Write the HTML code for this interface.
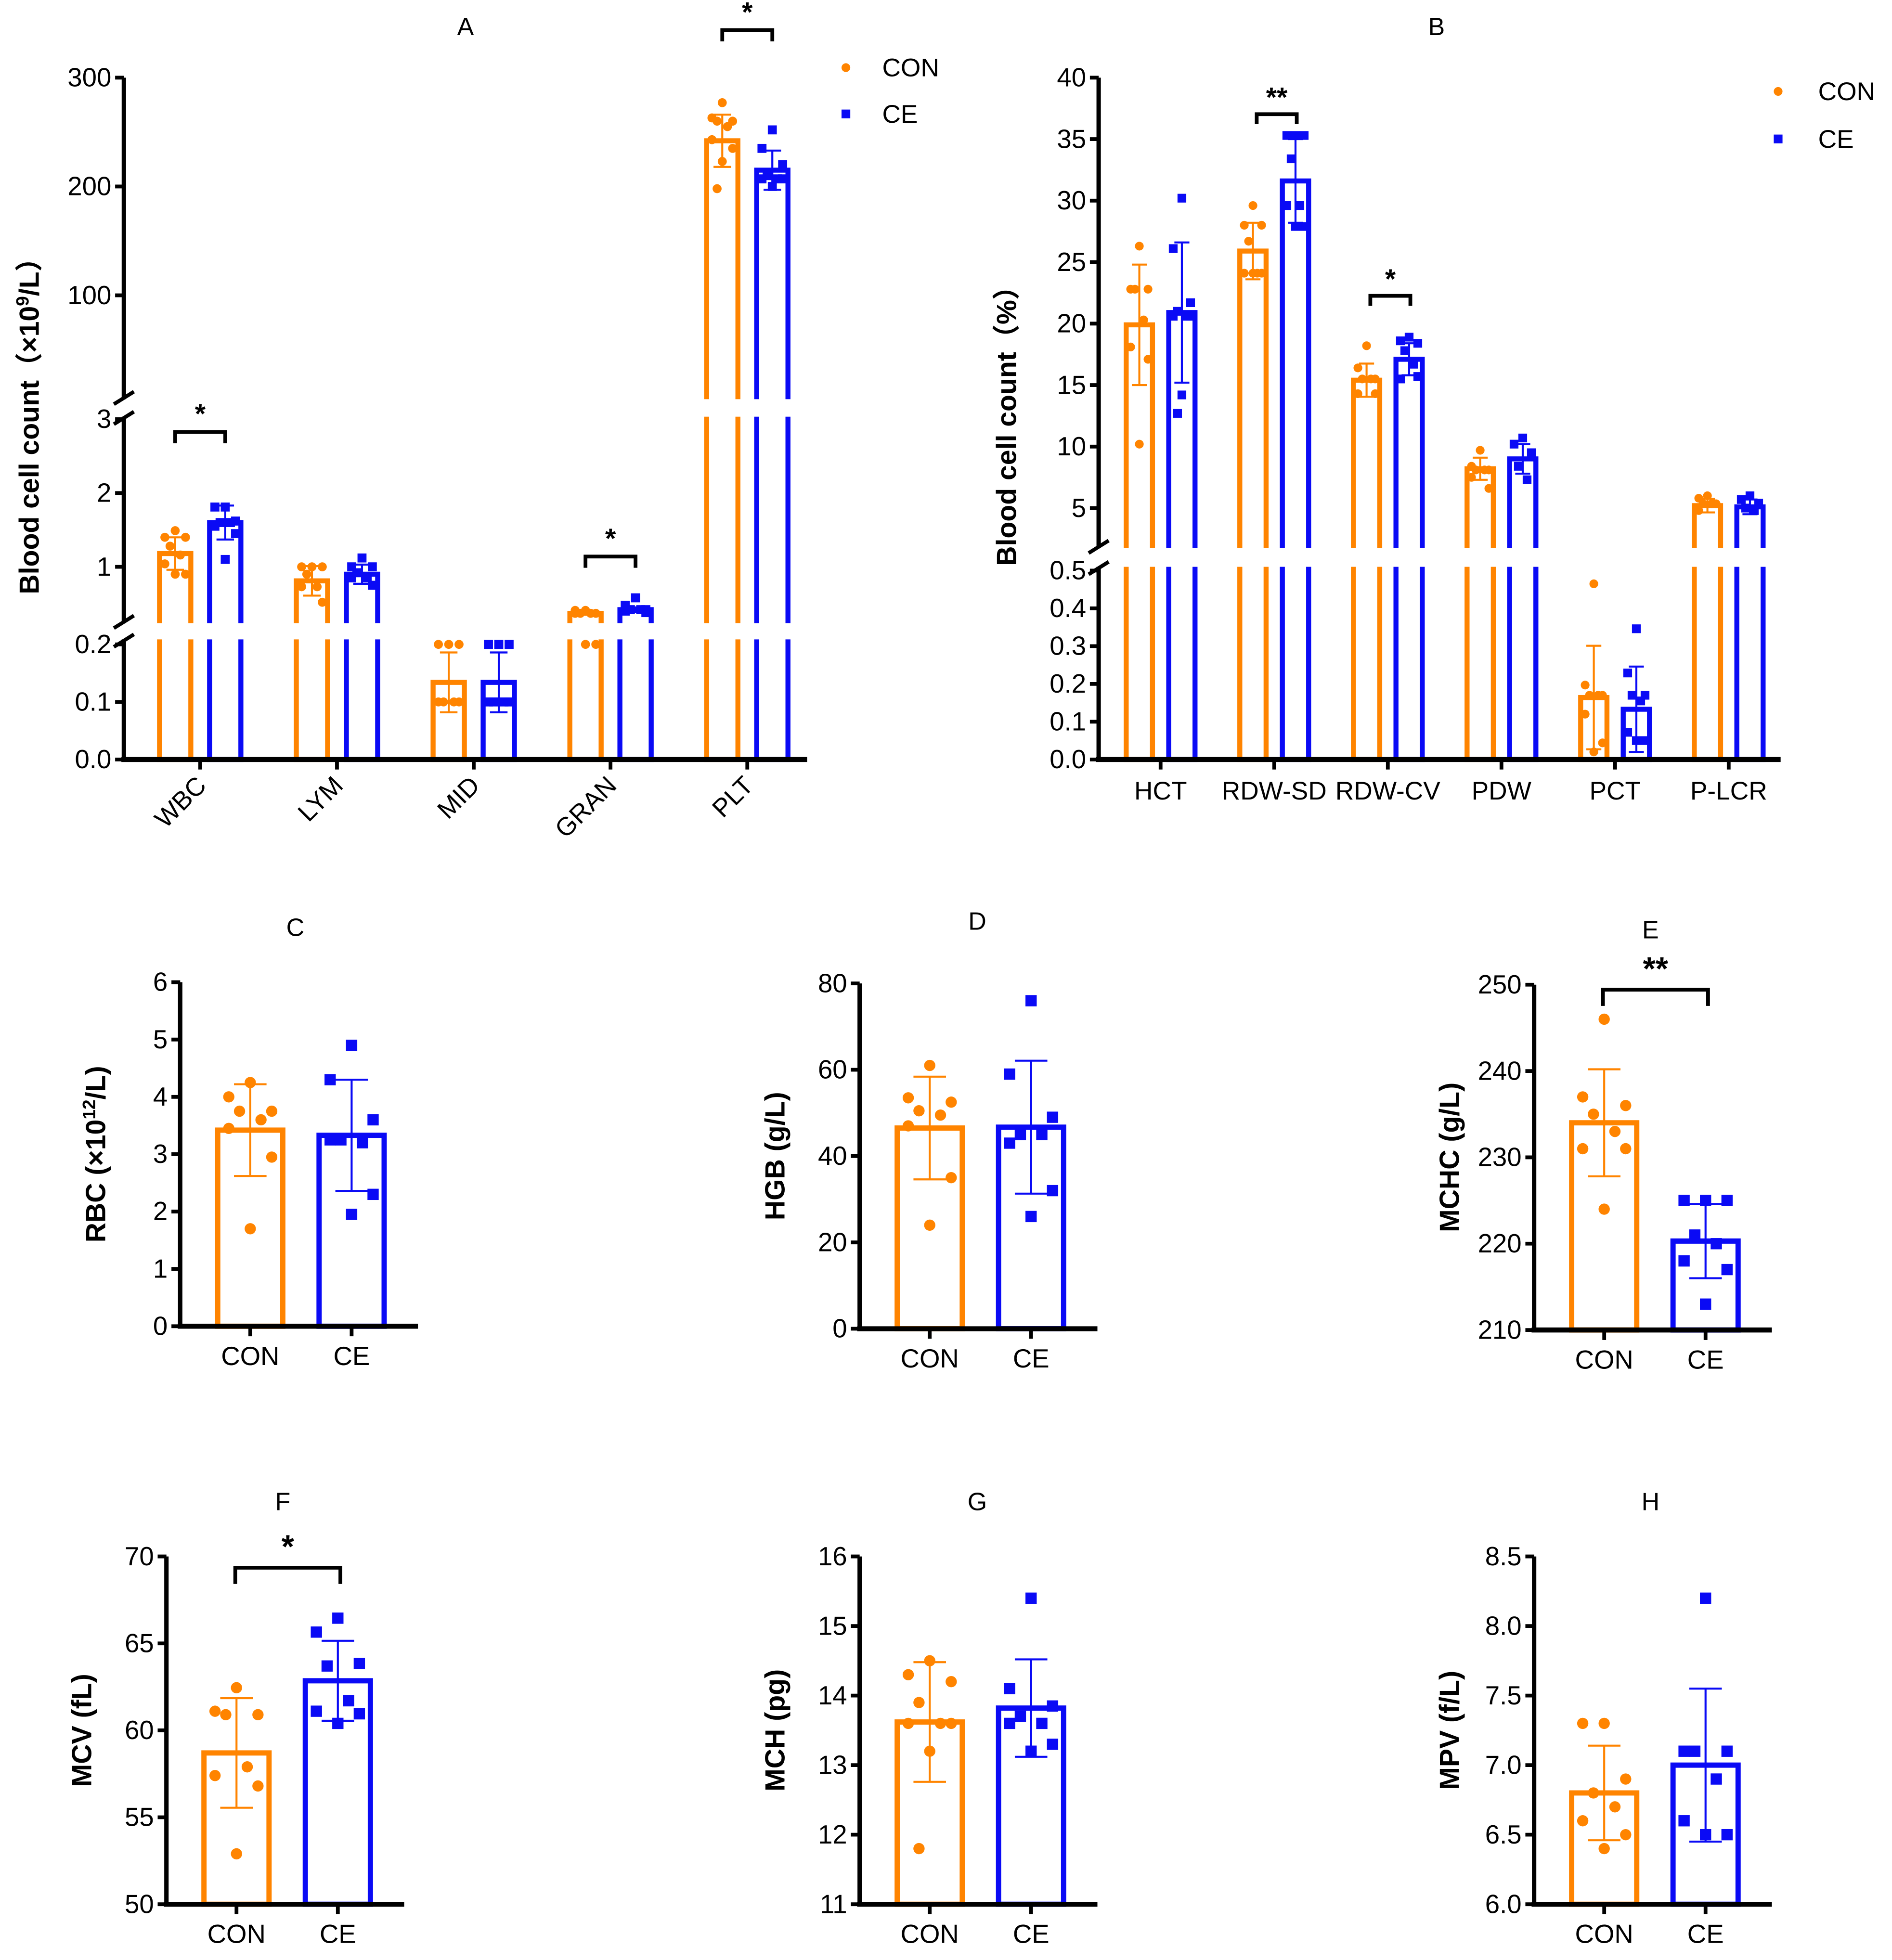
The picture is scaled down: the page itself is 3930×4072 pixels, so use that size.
<!DOCTYPE html>
<html><head><meta charset="utf-8"><title>Blood cell counts</title>
<style>
html,body{margin:0;padding:0;background:#fff;}
svg{display:block;font-family:"Liberation Sans","Noto Sans CJK SC",sans-serif;}
</style></head>
<body>
<svg id="fig" xmlns="http://www.w3.org/2000/svg" width="3930" height="4072" viewBox="0 0 1512 1566.5">
<rect x="0" y="0" width="1530" height="1586" fill="#fff"/>
</svg>
<script>
// ---------- DATA ----------
// Panel A
const catsA = ["WBC","LYM","MID","GRAN","PLT"];
const meanA_con = [1.18, 0.81, 0.134, 0.37, 242];
const sdA_con   = [0.22, 0.20, 0.052, 0.02, 24];
const meanA_ce  = [1.60, 0.90, 0.134, 0.42, 215];
const sdA_ce    = [0.23, 0.13, 0.052, 0.03, 18];
const ptsA_con = [[1.49,1.4,1.4,1.28,1.16,1.04,0.9,0.9],[1.0,1.0,1.0,0.9,0.73,0.73,0.52],[0.2,0.2,0.2,0.1,0.1,0.1,0.1],[0.41,0.41,0.37,0.37,0.37,0.37,0.2,0.2],[277,263,260,260,255,243,235,223,198]];
const ptsA_ce  = [[1.81,1.81,1.62,1.6,1.6,1.55,1.45,1.1],[1.12,1.0,1.0,0.92,0.85,0.85,0.75],[0.2,0.2,0.2,0.1,0.1,0.1,0.1],[0.58,0.48,0.42,0.42,0.42,0.4,0.38],[252,235,220,210,207,207,207,200]];
const ticksA_low = [0,0.1,0.2];
const ticksA_mid = [1,2,3];
const ticksA_top = [100,200,300];
const sigA = [["WBC","*"],["GRAN","*"],["PLT","*"]];
// Panel B
const catsB = ["HCT","RDW-SD","RDW-CV","PDW","PCT","P-LCR"];
const meanB_con = [19.9, 25.9, 15.4, 8.2, 0.164, 5.2];
const sdB_con   = [4.9, 2.3, 1.35, 0.9, 0.137, 0.55];
const meanB_ce  = [20.9, 31.6, 17.1, 9.0, 0.133, 5.1];
const sdB_ce    = [5.7, 3.4, 1.3, 1.2, 0.113, 0.6];
const ptsB_con = [[26.3,22.8,22.8,22.8,20.3,18.1,17.1,10.2],[29.6,28,28,26.7,24.1,24.1,24.1,24.1],[18.2,16.4,15.5,15.5,15.5,14.3,14.3],[9.7,8.4,8.1,8.1,8.1,7.5,6.6],[0.465,0.197,0.17,0.17,0.17,0.12,0.044,0.02],[6.0,5.8,5.35,5.35,5.35,4.8]];
const ptsB_ce  = [[30.2,26.1,21.7,21,20.6,20.6,20.6,14.2,12.7],[35.3,35.3,35.3,33.4,29.6,29.6,27.9,27.9],[18.9,18.6,18.4,17.8,16.7,15.5,15.7],[10.7,10.2,9.5,8.4,7.3],[0.346,0.229,0.17,0.17,0.155,0.072,0.05,0.05],[6.0,5.7,5.4,5.0,4.8]];
const ticksB_up = [5,10,15,20,25,30,35,40];
const ticksB_low = [0,0.1,0.2,0.3,0.4,0.5];
const sigB = [["RDW-SD","**"],["RDW-CV","*"]];
// Small panels C-H
const groups = ["CON","CE"];
const meanC = [3.42, 3.33]; const sdC = [0.80, 0.97];
const ptsC_con = [4.25,4.0,3.75,3.75,3.6,3.45,2.95,1.7];
const ptsC_ce  = [4.9,4.3,3.6,3.25,3.2,3.25,2.3,1.95];
const ticksC = [0,1,2,3,4,5,6];
const meanD = [46.5, 46.7]; const sdD = [11.9, 15.4];
const ptsD_con = [61,53.5,52.5,50.5,49.5,47,35,24];
const ptsD_ce  = [76,59,49,45,45,43,32,26];
const ticksD = [0,20,40,60,80];
const meanE = [234, 220.3]; const sdE = [6.2, 4.3];
const ptsE_con = [246,237,236,235,233,231,231,224];
const ptsE_ce  = [225,225,225,221,220,218,217,213];
const ticksE = [210,220,230,240,250];
const meanF = [58.7, 62.85]; const sdF = [3.15, 2.3];
const ptsF_con = [62.45,61.1,60.9,60.9,57.9,57.4,56.8,52.9];
const ptsF_ce  = [66.45,65.65,63.85,63.7,61.7,61.1,60.95,60.4];
const ticksF = [50,55,60,65,70];
const meanG = [13.62, 13.82]; const sdG = [0.86, 0.7];
const ptsG_con = [14.5,14.3,14.2,13.9,13.6,13.6,13.6,13.2,11.8];
const ptsG_ce  = [15.4,14.1,13.85,13.7,13.6,13.6,13.3,13.2];
const ticksG = [11,12,13,14,15,16];
const meanH = [6.8, 7.0]; const sdH = [0.34, 0.55];
const ptsH_con = [7.3,7.3,6.9,6.8,6.7,6.6,6.5,6.4];
const ptsH_ce  = [8.2,7.1,7.1,7.1,6.9,6.6,6.5,6.5];
const ticksH = [6.0,6.5,7.0,7.5,8.0,8.5];

// ---------- DRAWING ----------
const NS = "http://www.w3.org/2000/svg";
const svg = document.getElementById('fig');
const ORANGE = "#FF8400", BLUE = "#0A0AF5";
const TICKFS = 21;
const YTFS = 22;
const jit = [0,-1,1,-0.5,0.5,-1,1,0,-0.5];
function mk(tag, parent){ const e = document.createElementNS(NS, tag); parent.appendChild(e); return e; }
function at(e, o){ for (const k in o) e.setAttribute(k, o[k]); return e; }
function line(p, x1,y1,x2,y2, stroke, w){ return at(mk('line',p),{x1:x1,y1:y1,x2:x2,y2:y2,stroke:stroke,'stroke-width':w}); }
function txt(p, x,y,s,size,anchor,weight){ const t = at(mk('text',p),{x:x,y:y,'font-size':size,'text-anchor':anchor||'middle','font-weight':weight||'normal',fill:'#000'}); t.textContent = s; return t; }

function drawGroup(p, cx, w, mean, sd, pts, color, square, yf, baseY, capW, r, sw, gaps, label){
  const g = mk('g', p);
  
  
  const top = yf(mean);
  const bar = at(mk('rect', g), {x:cx-w/2, y:top, width:w, height:baseY-top, fill:'#fff', stroke:color, 'stroke-width':sw});
  
  
  (gaps||[]).forEach(gp => { if (gp[1] > top) at(mk('rect', g), {x:cx-w/2-sw, y:Math.max(gp[0],top-sw), width:w+2*sw, height:gp[1]-Math.max(gp[0],top-sw), fill:'#fff'}); });
  const eb = mk('g', g);
  
  
  const yu = yf(mean+sd), yl = yf(Math.max(mean-sd, 0));
  line(eb, cx, yu, cx, yl, color, 1.6);
  line(eb, cx-capW/2, yu, cx+capW/2, yu, color, 1.6);
  line(eb, cx-capW/2, yl, cx+capW/2, yl, color, 1.6);
  pts.forEach((v,i) => {
    const x = cx + jit[i % jit.length] * w * 0.33, y = yf(v);
    let d;
    if (square) d = at(mk('rect', g), {x:x-r, y:y-r, width:2*r, height:2*r, fill:color});
    else d = at(mk('circle', g), {cx:x, cy:y, r:r, fill:color});
    
    
  });
}
function bracket(p, x1, x2, y, leg, stars, sy, size){
  const g = mk('g', p);
  
  
  at(mk('polyline', g), {points:`${x1},${y+leg} ${x1},${y} ${x2},${y} ${x2},${y+leg}`, fill:'none', stroke:'#000', 'stroke-width':3});
  txt(g, (x1+x2)/2, sy, stars, size, 'middle', 'bold');
}
function yTitle(p, x, y, parts, size){
  const t = at(mk('text', p), {x:0, y:0, 'font-size':size, 'font-weight':'bold', 'text-anchor':'middle', transform:`translate(${x},${y}) rotate(-90)`});
  
  
  parts.forEach(pt => { const s = mk('tspan', t); s.textContent = pt[0]; if (pt[1]) { s.setAttribute('baseline-shift','super'); s.setAttribute('font-size', size*0.65); } });
}

// ----- Panel A -----
(function(){
  const p = mk('g', svg);
  
  
  const AX = 99, BASE = 607;
  const yA = v => v >= 9 ? 62 + (300 - v) * 0.87 : (v >= 0.25 ? 453 - (v - 1) * 59 : 607 - v * 460);
  const gaps = [[319,333],[498,511]];
  const cxA = i => 160 + i * 109.3;
  catsA.forEach((c,i) => {
    drawGroup(p, cxA(i)-20, 25, meanA_con[i], sdA_con[i], ptsA_con[i], ORANGE, false, yA, BASE, 14, 3.6, 4, gaps, c.toLowerCase()+'-con');
    drawGroup(p, cxA(i)+20, 25, meanA_ce[i], sdA_ce[i], ptsA_ce[i], BLUE, true, yA, BASE, 14, 3.6, 4, gaps, c.toLowerCase()+'-ce');
  });
  const ax = mk('g', p);
  
  
  [[62,319],[333,498],[511,607]].forEach(s => line(ax, AX, s[0], AX, s[1], '#000', 3.5));
  [[319,333],[498,511]].forEach(s => { line(ax, AX-8, s[0]+4, AX+8, s[0]-6, '#000', 3); line(ax, AX-8, s[1]+6, AX+8, s[1]-4, '#000', 3); });
  ticksA_low.forEach(t => { line(ax, AX-7, yA(t), AX, yA(t), '#000', 3); txt(ax, AX-10, yA(t)+7, t.toFixed(1), TICKFS, 'end'); });
  ticksA_mid.forEach(t => { line(ax, AX-7, yA(t), AX, yA(t), '#000', 3); txt(ax, AX-10, yA(t)+7, String(t), TICKFS, 'end'); });
  ticksA_top.forEach(t => { line(ax, AX-7, yA(t), AX, yA(t), '#000', 3); txt(ax, AX-10, yA(t)+7, String(t), TICKFS, 'end'); });
  const xa = mk('g', p);
  
  
  line(xa, AX-2, BASE, 645, BASE, '#000', 4);
  catsA.forEach((c,i) => {
    line(xa, cxA(i), BASE, cxA(i), BASE+8, '#000', 3);
    const t = txt(xa, 0, 0, c, 20.5, 'end');
    t.setAttribute('transform', `translate(${cxA(i)+6},${BASE+22}) rotate(-45)`);
    
    
  });
  sigA.forEach(s => {
    const i = catsA.indexOf(s[0]);
    const hi = Math.max(...ptsA_ce[i], ...ptsA_con[i], meanA_con[i]+sdA_con[i]);
    const y = yA(hi) - (i===4 ? 58 : (i===0 ? 60 : 33));
    bracket(p, cxA(i)-20, cxA(i)+20, y, 9, s[1], y-7, 22);
  });
  const tA = txt(p, 372, 28, 'A', 20);  
  yTitle(p, 31, 335, [['Blood cell count（×10'],['9',true],['/L）']], YTFS);
  const lg = mk('g', p);
  
  
  at(mk('circle', lg), {cx:676, cy:54, r:3.5, fill:ORANGE});
  txt(lg, 705, 61, 'CON', 20.5, 'start');
  at(mk('rect', lg), {x:672.5, y:87.5, width:7, height:7, fill:BLUE});
  txt(lg, 705, 98, 'CE', 20.5, 'start');
})();

// ----- Panel B -----
(function(){
  const p = mk('g', svg);
  
  
  const AX = 878, BASE = 607;
  const yB = v => v >= 1.9 ? 62 + (40 - v) * 9.83 : 607 - v * 302;
  const gaps = [[438,453]];
  const cxB = i => 927.5 + i * 90.8;
  catsB.forEach((c,i) => {
    drawGroup(p, cxB(i)-17, 21, meanB_con[i], sdB_con[i], ptsB_con[i], ORANGE, false, yB, BASE, 12, 3.5, 4, gaps, c.toLowerCase()+'-con');
    drawGroup(p, cxB(i)+17, 21, meanB_ce[i], sdB_ce[i], ptsB_ce[i], BLUE, true, yB, BASE, 12, 3.5, 4, gaps, c.toLowerCase()+'-ce');
  });
  const ax = mk('g', p);
  
  
  line(ax, AX, 62, AX, 438, '#000', 3.5);
  line(ax, AX, 453, AX, 607, '#000', 3.5);
  line(ax, AX-8, 442, AX+8, 432, '#000', 3); line(ax, AX-8, 459, AX+8, 449, '#000', 3);
  ticksB_up.forEach(t => { line(ax, AX-7, yB(t), AX, yB(t), '#000', 3); txt(ax, AX-10, yB(t)+7, String(t), TICKFS, 'end'); });
  ticksB_low.forEach(t => { line(ax, AX-7, yB(t), AX, yB(t), '#000', 3); txt(ax, AX-10, yB(t)+7, t.toFixed(1), TICKFS, 'end'); });
  const xa = mk('g', p);
  
  
  line(xa, AX-2, BASE, 1423, BASE, '#000', 4);
  catsB.forEach((c,i) => {
    line(xa, cxB(i), BASE, cxB(i), BASE+8, '#000', 3);
    const t = txt(xa, cxB(i), 639, c, 20.5, 'middle');
    
    
  });
  sigB.forEach(s => {
    const i = catsB.indexOf(s[0]);
    const hi = Math.max(...ptsB_ce[i], ...ptsB_con[i]);
    const y = yB(hi) - (i===1 ? 17 : 33);
    bracket(p, cxB(i)-14, cxB(i)+18, y, 8, s[1], y-6, 22);
  });
  const tB = txt(p, 1148, 28, 'B', 20);  
  yTitle(p, 812, 335, [['Blood cell count（%）']], YTFS);
  const lg = mk('g', p);
  
  
  at(mk('circle', lg), {cx:1421, cy:73, r:3.5, fill:ORANGE});
  txt(lg, 1453, 80, 'CON', 20.5, 'start');
  at(mk('rect', lg), {x:1417.5, y:107.5, width:7, height:7, fill:BLUE});
  txt(lg, 1453, 118, 'CE', 20.5, 'start');
})();

// ----- Small panels -----
function small(cfg){
  const p = mk('g', svg);
  
  
  const AX = cfg.ax, BOT = cfg.bot, TOP = cfg.top, lo = cfg.ticks[0], hi = cfg.ticks[cfg.ticks.length-1];
  const yf = v => BOT - (v - lo) / (hi - lo) * (BOT - TOP);
  const cx = [AX + 56, AX + 137];
  drawGroup(p, cx[0], 52, cfg.mean[0], cfg.sd[0], cfg.con, ORANGE, false, yf, BOT, 26, 4.5, 4.2, [], 'con');
  drawGroup(p, cx[1], 52, cfg.mean[1], cfg.sd[1], cfg.ce, BLUE, true, yf, BOT, 26, 4.5, 4.2, [], 'ce');
  const ax = mk('g', p);
  
  
  line(ax, AX, TOP, AX, BOT, '#000', 3.5);
  cfg.ticks.forEach(t => { line(ax, AX-7, yf(t), AX, yf(t), '#000', 3); txt(ax, AX-10, yf(t)+7, t.toFixed(cfg.dec), TICKFS, 'end'); });
  const xa = mk('g', p);
  
  
  line(xa, AX-2, BOT, AX+190, BOT, '#000', 4);
  groups.forEach((gname,i) => {
    line(xa, cx[i], BOT, cx[i], BOT+8, '#000', 3);
    const t = txt(xa, cx[i], BOT+31, gname, 21, 'middle');
    
    
  });
  const tt = txt(p, cfg.tx, cfg.ty, cfg.title, 20);  
  yTitle(p, AX-60, (TOP+BOT)/2, cfg.ylab, YTFS);
  if (cfg.sig) bracket(p, cx[0]-1, cx[1]+2, cfg.sig[0], 13, cfg.sig[1], cfg.sig[0]-8, 26);
}
small({name:'panel-c', ax:144, top:785, bot:1060, ticks:ticksC, dec:0, mean:meanC, sd:sdC, con:ptsC_con, ce:ptsC_ce, title:'C', tx:236, ty:748, ylab:[['RBC (×10'],['12',true],['/L)']]});
small({name:'panel-d', ax:687, top:786, bot:1062, ticks:ticksD, dec:0, mean:meanD, sd:sdD, con:ptsD_con, ce:ptsD_ce, title:'D', tx:781, ty:743, ylab:[['HGB (g/L)']]});
small({name:'panel-e', ax:1226, top:787, bot:1063, ticks:ticksE, dec:0, mean:meanE, sd:sdE, con:ptsE_con, ce:ptsE_ce, title:'E', tx:1319, ty:750, ylab:[['MCHC (g/L)']], sig:[791,'**']});
small({name:'panel-f', ax:133, top:1244, bot:1522, ticks:ticksF, dec:0, mean:meanF, sd:sdF, con:ptsF_con, ce:ptsF_ce, title:'F', tx:226, ty:1207, ylab:[['MCV (fL)']], sig:[1253,'*']});
small({name:'panel-g', ax:687, top:1244, bot:1522, ticks:ticksG, dec:0, mean:meanG, sd:sdG, con:ptsG_con, ce:ptsG_ce, title:'G', tx:781, ty:1207, ylab:[['MCH (pg)']]});
small({name:'panel-h', ax:1226, top:1244, bot:1522, ticks:ticksH, dec:1, mean:meanH, sd:sdH, con:ptsH_con, ce:ptsH_ce, title:'H', tx:1319, ty:1207, ylab:[['MPV (f/L)']]});
</script>
</body></html>
